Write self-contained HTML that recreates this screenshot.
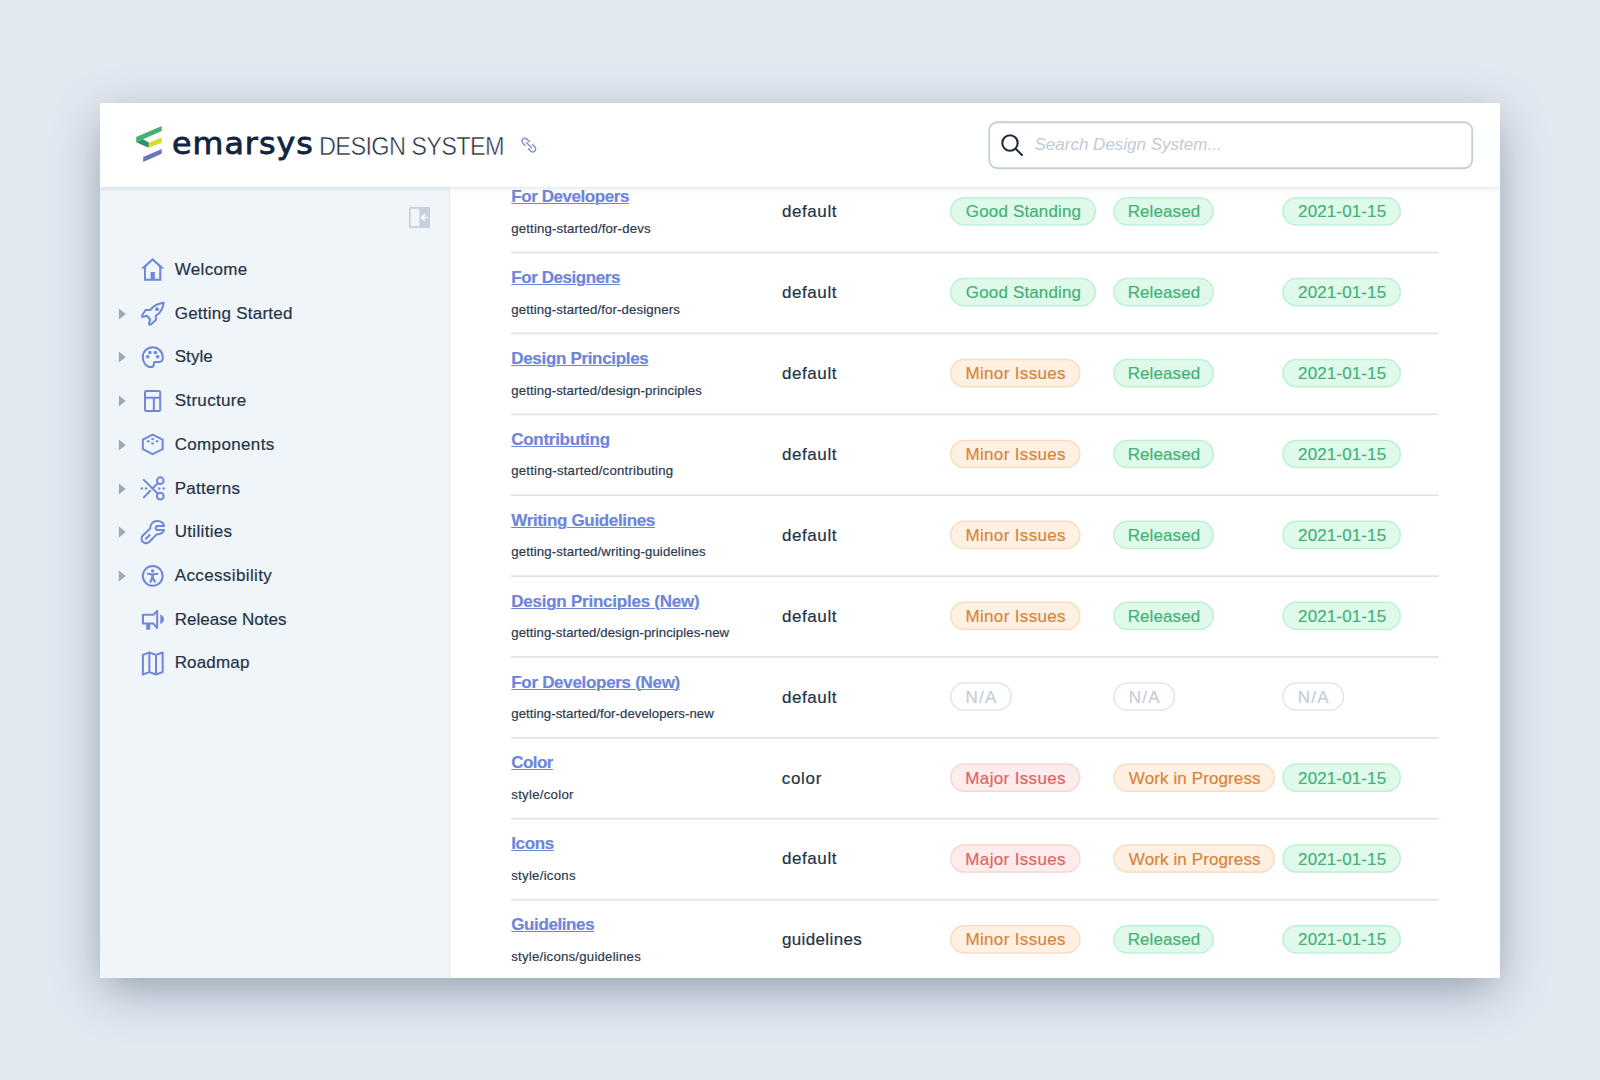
<!DOCTYPE html>
<html lang="en">
<head>
<meta charset="utf-8">
<title>Emarsys Design System</title>
<style>
html,body{margin:0;padding:0;}
body{width:1600px;height:1080px;overflow:hidden;background:#e2e8f0;font-family:"Liberation Sans",Arial,sans-serif;position:relative;}
.t{position:absolute;white-space:nowrap;line-height:20px;margin:0;padding:0;-webkit-text-stroke:0.2px currentColor;}
svg{position:absolute;overflow:visible;}
#card{position:absolute;left:100px;top:103px;width:1400px;height:875px;background:#fff;box-shadow:0 14px 45px -3px rgba(62,84,108,.49);}
#clip{position:absolute;left:100px;top:103px;width:1400px;height:875px;overflow:hidden;}
#clip>.in{position:absolute;left:-100px;top:-103px;width:1600px;height:1080px;}
#side{position:absolute;left:100px;top:187px;width:349px;height:791px;background:#f0f5fa;border-right:1.5px solid #e4e9f0;box-sizing:content-box;}
#head{position:absolute;left:100px;top:103px;width:1400px;height:84px;background:#fff;box-shadow:0 1px 6px rgba(40,60,90,.16);}
a.t{text-decoration:underline;text-decoration-thickness:1px;text-underline-offset:1.2px;}
</style>
</head>
<body>
<div id="card"></div>
<div id="clip"><div class="in">

<div id="main">
<div class="row" id="row0">
<a id="ti0" class="t" style="left:511.25px;top:187.10px;font-size:17.0px;color:#6d86da;letter-spacing:-0.431px;font-weight:700;">For Developers</a>
<span id="su0" class="t" style="left:511.25px;top:218.70px;font-size:13.2px;color:#2c3a4f;letter-spacing:0.158px;">getting-started/for-devs</span>
<span id="sl0" class="t" style="left:781.95px;top:202.26px;font-size:17.0px;color:#243447;letter-spacing:0.587px;">default</span>
<svg class="pills" style="left:500px;top:191px" width="960" height="66" viewBox="500 191 960 66"><rect x="950.75" y="197.70" width="144.50" height="27.20" rx="13.6" fill="#dffaea" stroke="#bcf2d3" stroke-width="1.5"/><rect x="1113.95" y="197.70" width="99.30" height="27.20" rx="13.6" fill="#dffaea" stroke="#bcf2d3" stroke-width="1.5"/><rect x="1282.95" y="197.70" width="117.30" height="27.20" rx="13.6" fill="#dffaea" stroke="#bcf2d3" stroke-width="1.5"/><rect x="511" y="251.60" width="927.7" height="1.8" fill="#e0e4ef"/></svg>
<span id="p0_0" class="t" style="left:965.84px;top:202.35px;font-size:17.0px;color:#45b176;letter-spacing:0.150px;">Good Standing</span>
<span id="p0_1" class="t" style="left:1127.69px;top:202.35px;font-size:17.0px;color:#45b176;letter-spacing:0.091px;">Released</span>
<span id="p0_2" class="t" style="left:1298.05px;top:202.35px;font-size:17.0px;color:#45b176;letter-spacing:0.126px;">2021-01-15</span>
</div>
<div class="row" id="row1">
<a id="ti1" class="t" style="left:511.25px;top:268.00px;font-size:17.0px;color:#6d86da;letter-spacing:-0.431px;font-weight:700;">For Designers</a>
<span id="su1" class="t" style="left:511.25px;top:299.60px;font-size:13.2px;color:#2c3a4f;letter-spacing:0.130px;">getting-started/for-designers</span>
<span id="sl1" class="t" style="left:781.95px;top:283.16px;font-size:17.0px;color:#243447;letter-spacing:0.587px;">default</span>
<svg class="pills" style="left:500px;top:272px" width="960" height="66" viewBox="500 272 960 66"><rect x="950.75" y="278.60" width="144.50" height="27.20" rx="13.6" fill="#dffaea" stroke="#bcf2d3" stroke-width="1.5"/><rect x="1113.95" y="278.60" width="99.30" height="27.20" rx="13.6" fill="#dffaea" stroke="#bcf2d3" stroke-width="1.5"/><rect x="1282.95" y="278.60" width="117.30" height="27.20" rx="13.6" fill="#dffaea" stroke="#bcf2d3" stroke-width="1.5"/><rect x="511" y="332.50" width="927.7" height="1.8" fill="#e0e4ef"/></svg>
<span id="p1_0" class="t" style="left:965.84px;top:283.25px;font-size:17.0px;color:#45b176;letter-spacing:0.150px;">Good Standing</span>
<span id="p1_1" class="t" style="left:1127.69px;top:283.25px;font-size:17.0px;color:#45b176;letter-spacing:0.091px;">Released</span>
<span id="p1_2" class="t" style="left:1298.05px;top:283.25px;font-size:17.0px;color:#45b176;letter-spacing:0.126px;">2021-01-15</span>
</div>
<div class="row" id="row2">
<a id="ti2" class="t" style="left:511.25px;top:348.90px;font-size:17.0px;color:#6d86da;letter-spacing:-0.321px;font-weight:700;">Design Principles</a>
<span id="su2" class="t" style="left:511.25px;top:380.50px;font-size:13.2px;color:#2c3a4f;letter-spacing:0.112px;">getting-started/design-principles</span>
<span id="sl2" class="t" style="left:781.95px;top:364.06px;font-size:17.0px;color:#243447;letter-spacing:0.587px;">default</span>
<svg class="pills" style="left:500px;top:352px" width="960" height="66" viewBox="500 352 960 66"><rect x="950.75" y="359.50" width="129.10" height="27.20" rx="13.6" fill="#fef0e2" stroke="#fadcc0" stroke-width="1.5"/><rect x="1113.95" y="359.50" width="99.30" height="27.20" rx="13.6" fill="#dffaea" stroke="#bcf2d3" stroke-width="1.5"/><rect x="1282.95" y="359.50" width="117.30" height="27.20" rx="13.6" fill="#dffaea" stroke="#bcf2d3" stroke-width="1.5"/><rect x="511" y="413.40" width="927.7" height="1.8" fill="#e0e4ef"/></svg>
<span id="p2_0" class="t" style="left:965.38px;top:364.15px;font-size:17.0px;color:#d6853b;letter-spacing:0.352px;">Minor Issues</span>
<span id="p2_1" class="t" style="left:1127.69px;top:364.15px;font-size:17.0px;color:#45b176;letter-spacing:0.091px;">Released</span>
<span id="p2_2" class="t" style="left:1298.05px;top:364.15px;font-size:17.0px;color:#45b176;letter-spacing:0.126px;">2021-01-15</span>
</div>
<div class="row" id="row3">
<a id="ti3" class="t" style="left:511.25px;top:429.80px;font-size:17.0px;color:#6d86da;letter-spacing:-0.289px;font-weight:700;">Contributing</a>
<span id="su3" class="t" style="left:511.25px;top:461.40px;font-size:13.2px;color:#2c3a4f;letter-spacing:0.212px;">getting-started/contributing</span>
<span id="sl3" class="t" style="left:781.95px;top:444.96px;font-size:17.0px;color:#243447;letter-spacing:0.587px;">default</span>
<svg class="pills" style="left:500px;top:433px" width="960" height="66" viewBox="500 433 960 66"><rect x="950.75" y="440.40" width="129.10" height="27.20" rx="13.6" fill="#fef0e2" stroke="#fadcc0" stroke-width="1.5"/><rect x="1113.95" y="440.40" width="99.30" height="27.20" rx="13.6" fill="#dffaea" stroke="#bcf2d3" stroke-width="1.5"/><rect x="1282.95" y="440.40" width="117.30" height="27.20" rx="13.6" fill="#dffaea" stroke="#bcf2d3" stroke-width="1.5"/><rect x="511" y="494.30" width="927.7" height="1.8" fill="#e0e4ef"/></svg>
<span id="p3_0" class="t" style="left:965.38px;top:445.05px;font-size:17.0px;color:#d6853b;letter-spacing:0.352px;">Minor Issues</span>
<span id="p3_1" class="t" style="left:1127.69px;top:445.05px;font-size:17.0px;color:#45b176;letter-spacing:0.091px;">Released</span>
<span id="p3_2" class="t" style="left:1298.05px;top:445.05px;font-size:17.0px;color:#45b176;letter-spacing:0.126px;">2021-01-15</span>
</div>
<div class="row" id="row4">
<a id="ti4" class="t" style="left:511.25px;top:510.70px;font-size:17.0px;color:#6d86da;letter-spacing:-0.342px;font-weight:700;">Writing Guidelines</a>
<span id="su4" class="t" style="left:511.25px;top:542.30px;font-size:13.2px;color:#2c3a4f;letter-spacing:0.134px;">getting-started/writing-guidelines</span>
<span id="sl4" class="t" style="left:781.95px;top:525.86px;font-size:17.0px;color:#243447;letter-spacing:0.587px;">default</span>
<svg class="pills" style="left:500px;top:514px" width="960" height="66" viewBox="500 514 960 66"><rect x="950.75" y="521.30" width="129.10" height="27.20" rx="13.6" fill="#fef0e2" stroke="#fadcc0" stroke-width="1.5"/><rect x="1113.95" y="521.30" width="99.30" height="27.20" rx="13.6" fill="#dffaea" stroke="#bcf2d3" stroke-width="1.5"/><rect x="1282.95" y="521.30" width="117.30" height="27.20" rx="13.6" fill="#dffaea" stroke="#bcf2d3" stroke-width="1.5"/><rect x="511" y="575.20" width="927.7" height="1.8" fill="#e0e4ef"/></svg>
<span id="p4_0" class="t" style="left:965.38px;top:525.95px;font-size:17.0px;color:#d6853b;letter-spacing:0.352px;">Minor Issues</span>
<span id="p4_1" class="t" style="left:1127.69px;top:525.95px;font-size:17.0px;color:#45b176;letter-spacing:0.091px;">Released</span>
<span id="p4_2" class="t" style="left:1298.05px;top:525.95px;font-size:17.0px;color:#45b176;letter-spacing:0.126px;">2021-01-15</span>
</div>
<div class="row" id="row5">
<a id="ti5" class="t" style="left:511.25px;top:591.60px;font-size:17.0px;color:#6d86da;letter-spacing:-0.237px;font-weight:700;">Design Principles (New)</a>
<span id="su5" class="t" style="left:511.25px;top:623.20px;font-size:13.2px;color:#2c3a4f;letter-spacing:0.064px;">getting-started/design-principles-new</span>
<span id="sl5" class="t" style="left:781.95px;top:606.76px;font-size:17.0px;color:#243447;letter-spacing:0.587px;">default</span>
<svg class="pills" style="left:500px;top:595px" width="960" height="66" viewBox="500 595 960 66"><rect x="950.75" y="602.20" width="129.10" height="27.20" rx="13.6" fill="#fef0e2" stroke="#fadcc0" stroke-width="1.5"/><rect x="1113.95" y="602.20" width="99.30" height="27.20" rx="13.6" fill="#dffaea" stroke="#bcf2d3" stroke-width="1.5"/><rect x="1282.95" y="602.20" width="117.30" height="27.20" rx="13.6" fill="#dffaea" stroke="#bcf2d3" stroke-width="1.5"/><rect x="511" y="656.10" width="927.7" height="1.8" fill="#e0e4ef"/></svg>
<span id="p5_0" class="t" style="left:965.38px;top:606.85px;font-size:17.0px;color:#d6853b;letter-spacing:0.352px;">Minor Issues</span>
<span id="p5_1" class="t" style="left:1127.69px;top:606.85px;font-size:17.0px;color:#45b176;letter-spacing:0.091px;">Released</span>
<span id="p5_2" class="t" style="left:1298.05px;top:606.85px;font-size:17.0px;color:#45b176;letter-spacing:0.126px;">2021-01-15</span>
</div>
<div class="row" id="row6">
<a id="ti6" class="t" style="left:511.25px;top:672.50px;font-size:17.0px;color:#6d86da;letter-spacing:-0.303px;font-weight:700;">For Developers (New)</a>
<span id="su6" class="t" style="left:511.25px;top:704.10px;font-size:13.2px;color:#2c3a4f;letter-spacing:0.050px;">getting-started/for-developers-new</span>
<span id="sl6" class="t" style="left:781.95px;top:687.66px;font-size:17.0px;color:#243447;letter-spacing:0.587px;">default</span>
<svg class="pills" style="left:500px;top:676px" width="960" height="66" viewBox="500 676 960 66"><rect x="950.75" y="683.10" width="60.50" height="27.20" rx="13.6" fill="#ffffff" stroke="#dfe5ee" stroke-width="1.5"/><rect x="1113.95" y="683.10" width="60.50" height="27.20" rx="13.6" fill="#ffffff" stroke="#dfe5ee" stroke-width="1.5"/><rect x="1282.95" y="683.10" width="60.50" height="27.20" rx="13.6" fill="#ffffff" stroke="#dfe5ee" stroke-width="1.5"/><rect x="511" y="737.00" width="927.7" height="1.8" fill="#e0e4ef"/></svg>
<span id="p6_0" class="t" style="left:965.46px;top:687.75px;font-size:17.0px;color:#c5cdd9;letter-spacing:1.318px;">N/A</span>
<span id="p6_1" class="t" style="left:1128.67px;top:687.75px;font-size:17.0px;color:#c5cdd9;letter-spacing:1.307px;">N/A</span>
<span id="p6_2" class="t" style="left:1297.67px;top:687.75px;font-size:17.0px;color:#c5cdd9;letter-spacing:1.307px;">N/A</span>
</div>
<div class="row" id="row7">
<a id="ti7" class="t" style="left:511.25px;top:753.40px;font-size:17.0px;color:#6d86da;letter-spacing:-0.538px;font-weight:700;">Color</a>
<span id="su7" class="t" style="left:511.25px;top:785.00px;font-size:13.2px;color:#2c3a4f;letter-spacing:0.283px;">style/color</span>
<span id="sl7" class="t" style="left:781.76px;top:768.56px;font-size:17.0px;color:#243447;letter-spacing:0.675px;">color</span>
<svg class="pills" style="left:500px;top:757px" width="960" height="66" viewBox="500 757 960 66"><rect x="950.75" y="764.00" width="129.10" height="27.20" rx="13.6" fill="#fdecec" stroke="#f9d6d6" stroke-width="1.5"/><rect x="1113.95" y="764.00" width="160.30" height="27.20" rx="13.6" fill="#fef0e2" stroke="#fadcc0" stroke-width="1.5"/><rect x="1282.95" y="764.00" width="117.30" height="27.20" rx="13.6" fill="#dffaea" stroke="#bcf2d3" stroke-width="1.5"/><rect x="511" y="817.90" width="927.7" height="1.8" fill="#e0e4ef"/></svg>
<span id="p7_0" class="t" style="left:965.37px;top:768.65px;font-size:17.0px;color:#df6461;letter-spacing:0.345px;">Major Issues</span>
<span id="p7_1" class="t" style="left:1128.87px;top:768.65px;font-size:17.0px;color:#d6853b;letter-spacing:0.107px;">Work in Progress</span>
<span id="p7_2" class="t" style="left:1298.05px;top:768.65px;font-size:17.0px;color:#45b176;letter-spacing:0.126px;">2021-01-15</span>
</div>
<div class="row" id="row8">
<a id="ti8" class="t" style="left:511.25px;top:834.30px;font-size:17.0px;color:#6d86da;letter-spacing:-0.349px;font-weight:700;">Icons</a>
<span id="su8" class="t" style="left:511.25px;top:865.90px;font-size:13.2px;color:#2c3a4f;letter-spacing:0.269px;">style/icons</span>
<span id="sl8" class="t" style="left:781.95px;top:849.46px;font-size:17.0px;color:#243447;letter-spacing:0.587px;">default</span>
<svg class="pills" style="left:500px;top:838px" width="960" height="66" viewBox="500 838 960 66"><rect x="950.75" y="844.90" width="129.10" height="27.20" rx="13.6" fill="#fdecec" stroke="#f9d6d6" stroke-width="1.5"/><rect x="1113.95" y="844.90" width="160.30" height="27.20" rx="13.6" fill="#fef0e2" stroke="#fadcc0" stroke-width="1.5"/><rect x="1282.95" y="844.90" width="117.30" height="27.20" rx="13.6" fill="#dffaea" stroke="#bcf2d3" stroke-width="1.5"/><rect x="511" y="898.80" width="927.7" height="1.8" fill="#e0e4ef"/></svg>
<span id="p8_0" class="t" style="left:965.37px;top:849.55px;font-size:17.0px;color:#df6461;letter-spacing:0.345px;">Major Issues</span>
<span id="p8_1" class="t" style="left:1128.87px;top:849.55px;font-size:17.0px;color:#d6853b;letter-spacing:0.107px;">Work in Progress</span>
<span id="p8_2" class="t" style="left:1298.05px;top:849.55px;font-size:17.0px;color:#45b176;letter-spacing:0.126px;">2021-01-15</span>
</div>
<div class="row" id="row9">
<a id="ti9" class="t" style="left:511.25px;top:915.20px;font-size:17.0px;color:#6d86da;letter-spacing:-0.393px;font-weight:700;">Guidelines</a>
<span id="su9" class="t" style="left:511.25px;top:946.80px;font-size:13.2px;color:#2c3a4f;letter-spacing:0.231px;">style/icons/guidelines</span>
<span id="sl9" class="t" style="left:781.96px;top:930.36px;font-size:17.0px;color:#243447;letter-spacing:0.365px;">guidelines</span>
<svg class="pills" style="left:500px;top:919px" width="960" height="66" viewBox="500 919 960 66"><rect x="950.75" y="925.80" width="129.10" height="27.20" rx="13.6" fill="#fef0e2" stroke="#fadcc0" stroke-width="1.5"/><rect x="1113.95" y="925.80" width="99.30" height="27.20" rx="13.6" fill="#dffaea" stroke="#bcf2d3" stroke-width="1.5"/><rect x="1282.95" y="925.80" width="117.30" height="27.20" rx="13.6" fill="#dffaea" stroke="#bcf2d3" stroke-width="1.5"/><rect x="511" y="979.70" width="927.7" height="1.8" fill="#e0e4ef"/></svg>
<span id="p9_0" class="t" style="left:965.38px;top:930.45px;font-size:17.0px;color:#d6853b;letter-spacing:0.352px;">Minor Issues</span>
<span id="p9_1" class="t" style="left:1127.69px;top:930.45px;font-size:17.0px;color:#45b176;letter-spacing:0.091px;">Released</span>
<span id="p9_2" class="t" style="left:1298.05px;top:930.45px;font-size:17.0px;color:#45b176;letter-spacing:0.126px;">2021-01-15</span>
</div>
</div>
<div id="side"></div>
<nav id="nav">
<div class="navitem" id="nav0">
<svg style="left:136px;top:253px" width="34" height="32" viewBox="136 253 34 32"><path fill="#6e87d8" fill-rule="evenodd" d="M152.59 257.89 L164.29 268.55 L161.33 268.55 L161.33 280.84 L144 280.84 L144 268.55 L140.89 268.55 Z M152.59 260.85 L159.25 266.92 L159.25 278.77 L154.81 278.77 L154.81 272.1 L150.66 272.1 L150.66 278.77 L145.92 278.77 L145.92 266.92 Z"/></svg>
<span id="nv0" class="t" style="left:174.70px;top:259.95px;font-size:17.0px;color:#243447;letter-spacing:0.328px;">Welcome</span>
</div>
<div class="navitem" id="nav1">
<svg style="left:118px;top:306.66px" width="9" height="14" viewBox="0 0 9 14"><path d="M0.9 1.5 L7.7 7 L0.9 12.5 Z" fill="#9ca9ba"/></svg>
<svg style="left:136px;top:297px" width="34" height="32" viewBox="136 297 34 32"><path fill="none" stroke="#6e87d8" stroke-width="2" stroke-linejoin="round" stroke-linecap="round" d="M163.7 302.8 C156.7 303.8 152.6 306.8 150.5 310 L145.5 310 L141.9 315.7 Q141.9 317.2 143.4 316.7 L146.7 315.7 L150.2 319.5 L149 323.7 Q149.2 325.2 150.5 324.7 L155.85 320.1 L155.85 315.7 C159.7 313.6 162.7 308.9 163.7 302.8 Z"/><circle cx="157.03" cy="309.14" r="1.9" fill="#6e87d8"/></svg>
<span id="nv1" class="t" style="left:174.70px;top:303.66px;font-size:17.0px;color:#243447;letter-spacing:0.247px;">Getting Started</span>
</div>
<div class="navitem" id="nav2">
<svg style="left:118px;top:350.37px" width="9" height="14" viewBox="0 0 9 14"><path d="M0.9 1.5 L7.7 7 L0.9 12.5 Z" fill="#9ca9ba"/></svg>
<svg style="left:136px;top:341px" width="34" height="32" viewBox="136 341 34 32"><path fill="none" stroke="#6e87d8" stroke-width="2" stroke-linejoin="round" d="M162.8 357.6 C162.8 351.9 158.4 347.2 152.9 347.2 C147.3 347.2 142.8 351.6 142.8 357 C142.8 362.5 146.5 367.1 150.8 367.1 C152.6 367.1 153.8 366 153.8 364.7 L153.8 363.4 C153.8 362.5 154.3 362 155.2 362 L159.1 362 C161.2 362 162.8 360.3 162.8 357.6 Z"/><g fill="#6e87d8"><circle cx="149.92" cy="352.4" r="1.75"/><circle cx="155.4" cy="352.4" r="1.75"/><circle cx="147.7" cy="356.85" r="1.75"/><circle cx="157.62" cy="356.85" r="1.75"/></g></svg>
<span id="nv2" class="t" style="left:174.70px;top:347.37px;font-size:17.0px;color:#243447;letter-spacing:0.078px;">Style</span>
</div>
<div class="navitem" id="nav3">
<svg style="left:118px;top:394.08px" width="9" height="14" viewBox="0 0 9 14"><path d="M0.9 1.5 L7.7 7 L0.9 12.5 Z" fill="#9ca9ba"/></svg>
<svg style="left:136px;top:385px" width="34" height="32" viewBox="136 385 34 32"><g fill="none" stroke="#6e87d8" stroke-width="1.95"><rect x="145" y="391" width="15.2" height="20" rx="1.3"/><path d="M145 397.74 H160.2 M153.86 397.74 V411"/></g></svg>
<span id="nv3" class="t" style="left:174.70px;top:391.08px;font-size:17.0px;color:#243447;letter-spacing:0.318px;">Structure</span>
</div>
<div class="navitem" id="nav4">
<svg style="left:118px;top:437.79px" width="9" height="14" viewBox="0 0 9 14"><path d="M0.9 1.5 L7.7 7 L0.9 12.5 Z" fill="#9ca9ba"/></svg>
<svg style="left:136px;top:428px" width="34" height="32" viewBox="136 428 34 32"><path fill="none" stroke="#6e87d8" stroke-width="2" stroke-linejoin="round" d="M152.59 434.66 L162.66 439.7 L162.66 449.18 L152.59 454.21 L142.81 449.18 L142.81 439.7 Z"/><g fill="#6e87d8"><ellipse cx="152.59" cy="439.11" rx="1.6" ry="1.05"/><ellipse cx="148.29" cy="441.33" rx="1.6" ry="1.05"/><ellipse cx="157.03" cy="441.33" rx="1.6" ry="1.05"/><ellipse cx="152.59" cy="443.55" rx="1.6" ry="1.05"/></g></svg>
<span id="nv4" class="t" style="left:174.70px;top:434.79px;font-size:17.0px;color:#243447;letter-spacing:0.348px;">Components</span>
</div>
<div class="navitem" id="nav5">
<svg style="left:118px;top:481.50px" width="9" height="14" viewBox="0 0 9 14"><path d="M0.9 1.5 L7.7 7 L0.9 12.5 Z" fill="#9ca9ba"/></svg>
<svg style="left:136px;top:472px" width="34" height="32" viewBox="136 472 34 32"><g fill="none" stroke="#6e87d8" stroke-width="2" stroke-linecap="round"><circle cx="160.29" cy="480.74" r="3.37"/><circle cx="160.29" cy="496.14" r="3.37"/><path d="M143.85 479.85 L157.6 493.5 M157.6 483.5 L153.18 487.7 M150.22 490.81 L143.85 497.33"/></g><g fill="#6e87d8"><circle cx="141.78" cy="488.44" r="1.2"/><circle cx="146.07" cy="488.44" r="1.2"/><circle cx="159.25" cy="488.44" r="1.2"/><circle cx="163.7" cy="488.44" r="1.2"/></g></svg>
<span id="nv5" class="t" style="left:174.70px;top:478.50px;font-size:17.0px;color:#243447;letter-spacing:0.288px;">Patterns</span>
</div>
<div class="navitem" id="nav6">
<svg style="left:118px;top:525.21px" width="9" height="14" viewBox="0 0 9 14"><path d="M0.9 1.5 L7.7 7 L0.9 12.5 Z" fill="#9ca9ba"/></svg>
<svg style="left:136px;top:516px" width="34" height="32" viewBox="136 516 34 32"><g fill="none" stroke="#6e87d8" stroke-width="2" stroke-linejoin="round" stroke-linecap="round"><path d="M164.14 525.92 L156.73 525.92 L155.55 527.91 L156.73 529.92 L164.14 529.92 C163.25 532.59 160.59 534.51 156.73 534.36 L149.33 541.77 C147.55 543.55 144.59 543.7 142.81 541.77 C141.04 539.99 141.18 537.33 142.81 535.55 L150.22 528.44 C149.92 524.29 153.18 520.89 157.33 521.04 C161.18 521.18 163.55 523.41 164.14 525.92 Z"/><path d="M149.63 534.96 L145.92 538.81"/></g></svg>
<span id="nv6" class="t" style="left:174.70px;top:522.21px;font-size:17.0px;color:#243447;letter-spacing:0.327px;">Utilities</span>
</div>
<div class="navitem" id="nav7">
<svg style="left:118px;top:568.92px" width="9" height="14" viewBox="0 0 9 14"><path d="M0.9 1.5 L7.7 7 L0.9 12.5 Z" fill="#9ca9ba"/></svg>
<svg style="left:136px;top:559px" width="34" height="32" viewBox="136 559 34 32"><circle cx="152.74" cy="575.88" r="9.9" fill="none" stroke="#6e87d8" stroke-width="2.05"/><circle cx="152.59" cy="571" r="1.63" fill="#6e87d8"/><g fill="none" stroke="#6e87d8" stroke-linecap="round" stroke-linejoin="round"><path stroke-width="2" d="M147.85 573.81 L152.59 574.5 L157.48 573.66"/><path stroke-width="2.6" stroke-linecap="butt" d="M152.59 574.2 V578.4"/><path stroke-width="2.1" d="M150.37 581.81 L152.59 577.6 L154.96 581.66"/></g></svg>
<span id="nv7" class="t" style="left:174.70px;top:565.92px;font-size:17.0px;color:#243447;letter-spacing:0.377px;">Accessibility</span>
</div>
<div class="navitem" id="nav8">
<svg style="left:136px;top:603px" width="34" height="32" viewBox="136 603 34 32"><path fill="none" stroke="#6e87d8" stroke-width="2" stroke-linejoin="round" d="M142.96 614.85 L153.33 614.85 L157.18 610.85 L157.18 628.03 L153.33 623.59 L142.96 623.59 Z"/><rect x="146.22" y="623.59" width="4" height="6.2" rx=".5" fill="#6e87d8"/><path fill="#6e87d8" d="M160.3 614.4 C165.2 616 165.2 622.4 160.3 623.9 Z"/></svg>
<span id="nv8" class="t" style="left:174.70px;top:609.63px;font-size:17.0px;color:#243447;letter-spacing:0.027px;">Release Notes</span>
</div>
<div class="navitem" id="nav9">
<svg style="left:136px;top:647px" width="34" height="32" viewBox="136 647 34 32"><path fill="none" stroke="#6e87d8" stroke-width="2" stroke-linejoin="round" d="M142.87 654.85 L149.33 652.48 L155.99 654.85 L162.66 652.48 L162.66 672.18 L155.99 674.55 L149.33 672.18 L142.87 674.55 Z M149.33 652.48 V672.18 M155.99 654.85 V674.55"/></svg>
<span id="nv9" class="t" style="left:174.70px;top:653.34px;font-size:17.0px;color:#243447;letter-spacing:0.156px;">Roadmap</span>
</div>
</nav>
<svg style="left:405px;top:203px" width="30" height="30" viewBox="405 203 30 30"><rect x="409.85" y="207.85" width="19.3" height="19.3" rx="1" fill="none" stroke="#c5d0de" stroke-width="1.7"/><rect x="419.4" y="207.85" width="9.75" height="19.3" fill="#c5d0de"/><path d="M427.8 217.5 H422 M424.9 214.1 L421.6 217.5 L424.9 220.9" fill="none" stroke="#fff" stroke-width="1.6" stroke-linejoin="miter"/></svg>
<header id="head"></header>
<svg style="left:130px;top:120px" width="40" height="50" viewBox="130 120 40 50"><path fill="#44b272" d="M136.2 137.1 L161.7 126 L161.7 131.1 L136.2 142.2 Z"/><path fill="#2f8f6b" d="M136.2 142.2 L143 139.3 L149 142.7 L148.6 147.8 Z"/><path fill="#d8dc2c" d="M149 142.7 L161.7 137.4 L161.7 142.7 L148.6 147.8 Z"/><path fill="#6876b9" d="M143.2 157 L161.7 148.9 L161.7 153.8 L143.2 161.9 Z"/></svg>
<span id="logo1" class="t" style="left:172.33px;top:133.60px;font-size:30.2px;color:#11243e;letter-spacing:0.973px;font-family:'DejaVu Sans','Liberation Sans',sans-serif;-webkit-text-stroke:0.8px #11243e;transform:scaleX(1.05);transform-origin:0 50%;">emarsys</span>
<span id="logo2" class="t" style="left:318.57px;top:135.70px;font-size:25.3px;color:#1f2d3f;letter-spacing:-0.698px;-webkit-text-stroke:0.5px #fff;transform:scaleX(0.93);transform-origin:0 50%;">DESIGN SYSTEM</span>
<svg style="left:517px;top:134px" width="24" height="22" viewBox="517 134 24 22"><g fill="none" stroke="#8191d6" stroke-width="1.45" stroke-linecap="round"><path d="M529.53 141.54 L526.78 139.09 C525.56 137.97 523.52 138.07 522.6 139.5 C521.69 140.93 522.09 142.56 523.11 143.58 L525.15 145.61"/><path d="M526.47 142.56 L531.47 147.85"/><path d="M532.49 144.59 L534.73 146.84 C535.95 148.06 535.95 149.89 534.93 150.91 C533.91 151.93 532.08 152.13 530.85 151.11 L528.41 148.67"/></g></svg>
<svg id="search" style="left:985px;top:118px" width="492" height="55" viewBox="985 118 492 55"><rect x="989.25" y="122.25" width="483" height="46" rx="8.2" fill="#fff" stroke="#c4cdd9" stroke-width="1.8"/></svg>
<svg style="left:996px;top:130px" width="32" height="32" viewBox="996 130 32 32"><g fill="none" stroke="#1e2b3c" stroke-width="2.1" stroke-linecap="round"><circle cx="1010" cy="143" r="7.7"/><path d="M1015.6 148.7 L1022 155.1"/></g></svg>
<span id="ph" class="t" style="left:1034.49px;top:135.30px;font-size:17.0px;color:#c1cad6;letter-spacing:0.004px;font-style:italic;-webkit-text-stroke:0;">Search Design System...</span>
</div></div>
</body></html>
